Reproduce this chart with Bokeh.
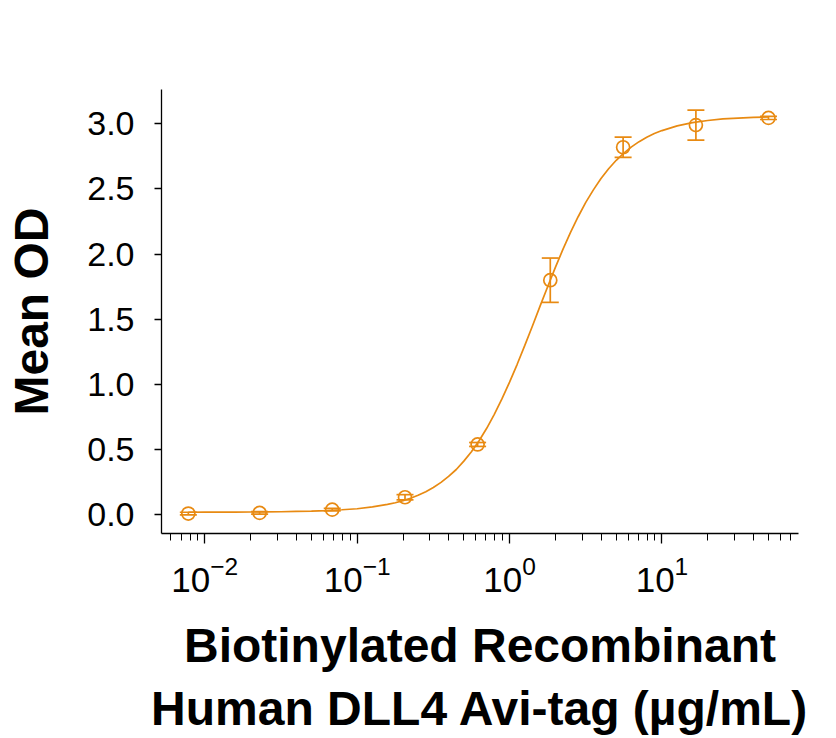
from bokeh.plotting import figure
from bokeh.models import Range1d, FixedTicker, NumeralTickFormatter, LogTicker, ColumnDataSource, Whisker, TeeHead
from bokeh.embed import file_html
from bokeh.resources import INLINE

# Data
conc = [0.0078, 0.0229, 0.0686, 0.206, 0.617, 1.85, 5.56, 16.7, 50.0]
mean_od = [0.01, 0.015, 0.04, 0.135, 0.54, 1.80, 2.82, 2.99, 3.045]
err = [0.01, 0.01, 0.01, 0.02, 0.015, 0.17, 0.077, 0.115, 0.012]

# Fitted curve
curve_x = [0.0078, 0.01, 0.0126, 0.0158, 0.02, 0.0251, 0.0316, 0.0398, 0.0501, 0.0631,
           0.0794, 0.1, 0.126, 0.158, 0.178, 0.2, 0.224, 0.251, 0.282, 0.316,
           0.355, 0.398, 0.447, 0.501, 0.562, 0.631, 0.708, 0.794, 0.891, 1.0,
           1.122, 1.259, 1.413, 1.585, 1.778, 1.995, 2.239, 2.512, 2.818, 3.162,
           3.548, 3.981, 4.467, 5.012, 5.623, 6.310, 7.079, 7.943, 8.913, 10.0,
           12.59, 15.85, 19.95, 25.12, 31.62, 39.81, 50.0]
curve_y = [0.020, 0.021, 0.021, 0.021, 0.022, 0.023, 0.024, 0.026, 0.028, 0.032,
           0.039, 0.047, 0.061, 0.080, 0.093, 0.109, 0.127, 0.150, 0.178, 0.210,
           0.249, 0.295, 0.348, 0.412, 0.484, 0.569, 0.664, 0.771, 0.889, 1.018,
           1.155, 1.300, 1.449, 1.601, 1.750, 1.897, 2.036, 2.167, 2.287, 2.397,
           2.493, 2.580, 2.655, 2.720, 2.775, 2.823, 2.863, 2.897, 2.925, 2.948,
           2.984, 3.009, 3.025, 3.037, 3.044, 3.049, 3.053]

y_ticks = [0.0, 0.5, 1.0, 1.5, 2.0, 2.5, 3.0]

COLOR = "#E88A12"
FONT = "Liberation Sans"

p = figure(width=836, height=738, x_axis_type="log",
           x_range=Range1d(0.0052, 78.7), y_range=Range1d(-0.143, 3.263),
           output_backend="svg", toolbar_location=None,
           min_border_left=161, min_border_top=89, min_border_right=38, min_border_bottom=205)

p.outline_line_color = None
p.xgrid.visible = False
p.ygrid.visible = False
p.background_fill_color = "white"
p.border_fill_color = "white"

p.line(curve_x, curve_y, line_color=COLOR, line_width=1.7)

src = ColumnDataSource(dict(x=conc, y=mean_od,
                            upper=[m + e for m, e in zip(mean_od, err)],
                            lower=[m - e for m, e in zip(mean_od, err)]))
w = Whisker(base="x", upper="upper", lower="lower", source=src,
            line_color=COLOR, line_width=1.7,
            upper_head=TeeHead(size=17, line_color=COLOR, line_width=1.7),
            lower_head=TeeHead(size=17, line_color=COLOR, line_width=1.7))
p.add_layout(w)
p.scatter("x", "y", source=src, marker="circle", size=13, fill_color=None,
          line_color=COLOR, line_width=1.7)

# Y axis
p.yaxis.ticker = FixedTicker(ticks=y_ticks)
p.yaxis.formatter = NumeralTickFormatter(format="0.0")
p.yaxis.minor_tick_line_color = None
p.yaxis.major_tick_out = 7
p.yaxis.major_tick_in = 0
p.yaxis.major_label_standoff = 20
p.yaxis.major_label_text_font = FONT
p.yaxis.major_label_text_font_size = "34px"
p.yaxis.major_label_text_color = "black"
p.yaxis.axis_label = "Mean OD"
p.yaxis.axis_label_text_font = FONT
p.yaxis.axis_label_text_font_size = "48px"
p.yaxis.axis_label_text_font_style = "bold"
p.yaxis.axis_label_text_color = "black"
p.yaxis.axis_label_standoff = 26

# X axis
p.xaxis.ticker = LogTicker(num_minor_ticks=10)
p.xaxis.major_tick_out = 10
p.xaxis.major_tick_in = 0
p.xaxis.minor_tick_out = 7
p.xaxis.minor_tick_in = 0
p.xaxis.major_label_standoff = 12
p.xaxis.major_label_text_font = FONT
p.xaxis.major_label_text_font_size = "35px"
p.xaxis.major_label_text_color = "black"
p.xaxis.axis_label = "Biotinylated Recombinant\nHuman DLL4 Avi-tag (µg/mL)"
p.xaxis.axis_label_text_font = FONT
p.xaxis.axis_label_text_font_size = "48px"
p.xaxis.axis_label_text_font_style = "bold"
p.xaxis.axis_label_text_color = "black"
p.xaxis.axis_label_standoff = 24

for ax in (p.xaxis, p.yaxis):
    ax.axis_line_color = "black"
    ax.axis_line_width = 1.3
    ax.major_tick_line_color = "black"
    ax.major_tick_line_width = 1.3

p.xaxis.minor_tick_line_color = "black"

open("out.html", "w").write(file_html(p, INLINE))
